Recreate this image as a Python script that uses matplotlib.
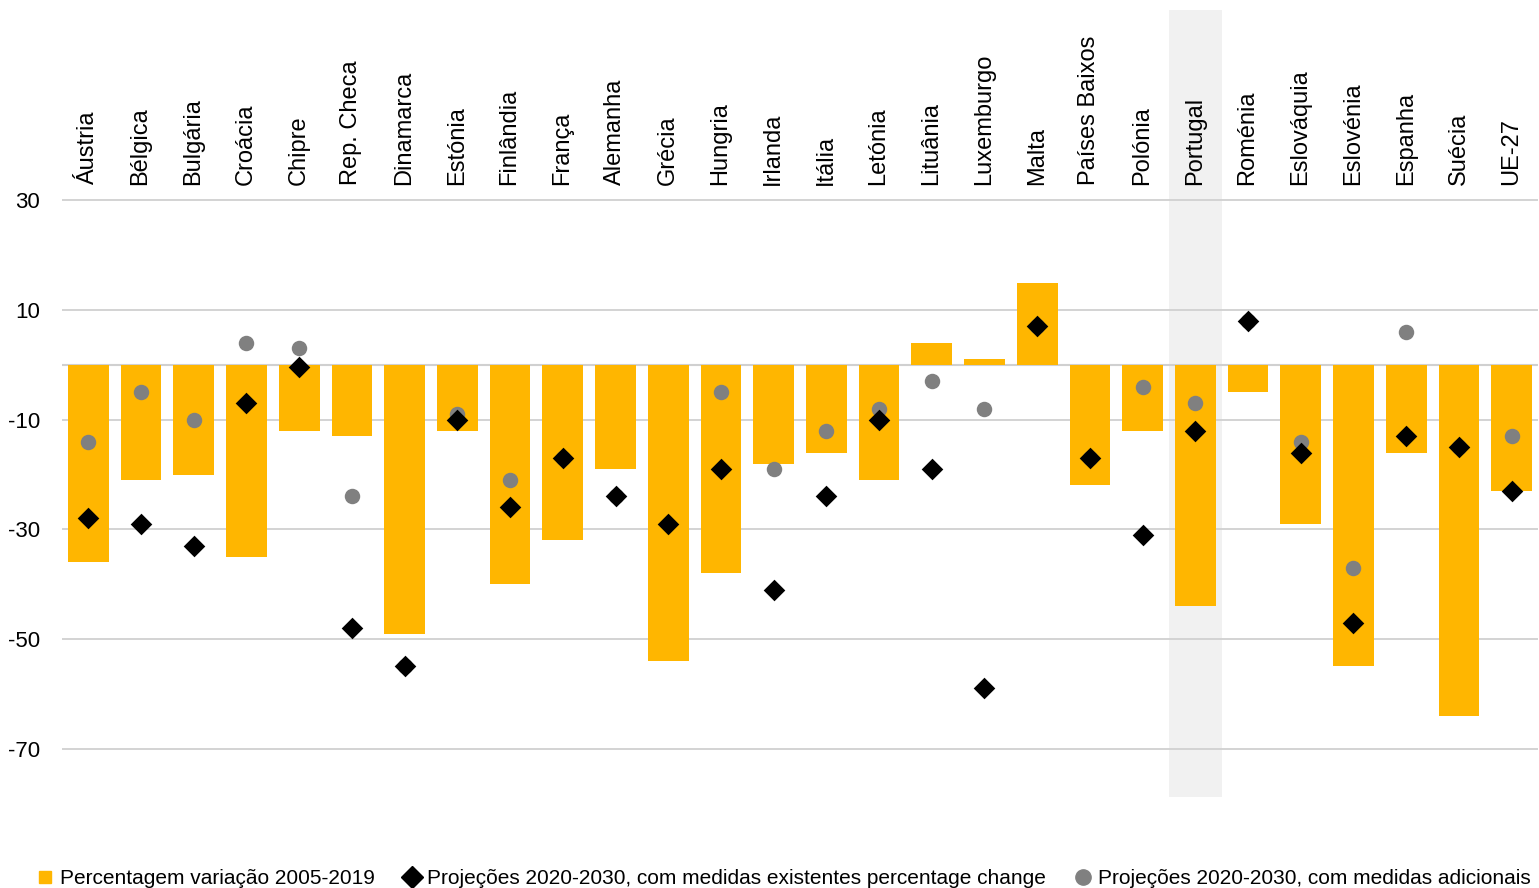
import matplotlib
matplotlib.use("Agg")
import matplotlib.pyplot as plt
from matplotlib.lines import Line2D

plt.rcParams['font.family'] = ['Liberation Sans', 'DejaVu Sans']

countries = ["Áustria", "Bélgica", "Bulgária", "Croácia", "Chipre", "Rep. Checa",
             "Dinamarca", "Estónia", "Finlândia", "França", "Alemanha", "Grécia",
             "Hungria", "Irlanda", "Itália", "Letónia", "Lituânia", "Luxemburgo",
             "Malta", "Países Baixos", "Polónia", "Portugal", "Roménia",
             "Eslováquia", "Eslovénia", "Espanha", "Suécia", "UE-27"]

change_2005_2019 = [-36, -21, -20, -35, -12, -13, -49, -12, -40, -32, -19, -54,
                    -38, -18, -16, -21, 4, 1, 15, -22, -12, -44, -5,
                    -29, -55, -16, -64, -23]

proj_existing = [-28, -29, -33, -7, -0.4, -48, -55, -10, -26, -17, -24, -29,
                 -19, -41, -24, -10, -19, -59, 7, -17, -31, -12, 8,
                 -16, -47, -13, -15, -23]

proj_additional = [-14, -5, -10, 4, 3, -24, -55, -9, -21, -17, -24, None,
                   -5, -19, -12, -8, -3, -8, 7, -17, -4, -7, 8,
                   -14, -37, 6, -15, -13]

yticks = [30, 10, -10, -30, -50, -70]
highlight = "Portugal"

legend_labels = ["Percentagem variação 2005-2019",
                 "Projeções 2020-2030, com medidas existentes percentage change",
                 "Projeções 2020-2030, com medidas adicionais"]

ORANGE = "#FFB600"
GREY = "#808080"

fig = plt.figure(figsize=(15.39, 8.88), dpi=100)
ax = fig.add_axes([62/1539, 1 - 797/888, (1538-62)/1539, (797-10)/888])

x = list(range(len(countries)))

hi = countries.index(highlight)
ax.axvspan(hi - 0.5, hi + 0.5, color="#F1F1F1", zorder=0, lw=0)

for t in yticks:
    ax.axhline(t, color="#D0D0D0", lw=1.3, zorder=1)
ax.axhline(0, color="#D0D0D0", lw=1.5, zorder=1)

ax.bar(x, change_2005_2019, width=0.77, color=ORANGE, zorder=2)

xa = [i for i, v in zip(x, proj_additional) if v is not None]
ya = [v for v in proj_additional if v is not None]
ax.scatter(xa, ya, s=15**2 * 0.55, marker='o', color=GREY, zorder=3, linewidths=0)
ax.scatter(x, proj_existing, s=11**2, marker='D', color='black', zorder=4, linewidths=0)

for i, name in enumerate(countries):
    ax.text(i - 0.01, 32.8, name, rotation=90, ha='center', va='bottom', fontsize=17, color='black')

ax.set_xlim(-0.5, len(countries) - 0.5)
ax.set_ylim(-78.8, 64.7)
ax.set_yticks(yticks)
ax.set_yticklabels([str(t) for t in yticks], fontsize=16)
ax.tick_params(axis='y', length=0, pad=16)
ax.set_xticks([])
for s in ax.spines.values():
    s.set_visible(False)

handles = [
    Line2D([], [], marker='s', color=ORANGE, linestyle='none', markersize=9),
    Line2D([], [], marker='D', color='black', linestyle='none', markersize=11),
    Line2D([], [], marker='o', color=GREY, linestyle='none', markersize=11),
]
fig.legend(handles, legend_labels, loc='lower center', bbox_to_anchor=(0.51, -0.021),
           ncol=3, frameon=False, fontsize=15, handlelength=0.6, handletextpad=0.4,
           columnspacing=1.5)

fig.savefig("out.png", dpi=100, facecolor='white')
